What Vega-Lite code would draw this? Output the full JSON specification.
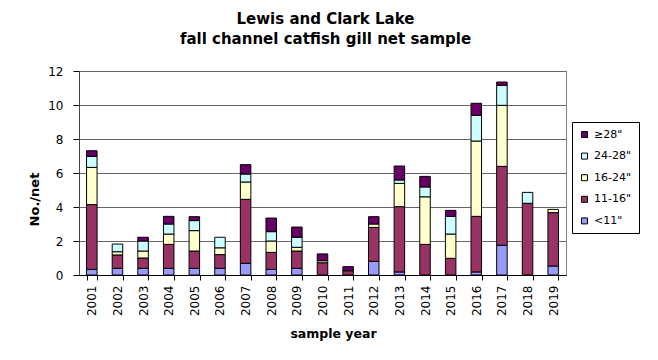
{
  "$schema": "https://vega.github.io/schema/vega-lite/v6.json",
  "width": 487,
  "height": 204,
  "autosize": {"type": "none"},
  "padding": {"left": 79, "top": 71, "right": 92, "bottom": 85},
  "background": "white",
  "title": {
    "text": ["Lewis and Clark Lake", "fall channel catfish gill net sample"],
    "font": "DejaVu Sans",
    "fontSize": 15,
    "fontWeight": "bold",
    "color": "#000000",
    "anchor": "middle",
    "frame": "group",
    "offset": 18,
    "lineHeight": 20,
    "dx": 3
  },
  "data": {
    "values": [
      {"year": "2001", "size": "<11\"", "n": 0.33},
      {"year": "2001", "size": "11-16\"", "n": 3.81},
      {"year": "2001", "size": "16-24\"", "n": 2.19},
      {"year": "2001", "size": "24-28\"", "n": 0.65},
      {"year": "2001", "size": "≥28\"", "n": 0.33},
      {"year": "2002", "size": "<11\"", "n": 0.39},
      {"year": "2002", "size": "11-16\"", "n": 0.79},
      {"year": "2002", "size": "16-24\"", "n": 0.19},
      {"year": "2002", "size": "24-28\"", "n": 0.45},
      {"year": "2003", "size": "<11\"", "n": 0.39},
      {"year": "2003", "size": "11-16\"", "n": 0.61},
      {"year": "2003", "size": "16-24\"", "n": 0.41},
      {"year": "2003", "size": "24-28\"", "n": 0.59},
      {"year": "2003", "size": "≥28\"", "n": 0.22},
      {"year": "2004", "size": "<11\"", "n": 0.39},
      {"year": "2004", "size": "11-16\"", "n": 1.41},
      {"year": "2004", "size": "16-24\"", "n": 0.61},
      {"year": "2004", "size": "24-28\"", "n": 0.59},
      {"year": "2004", "size": "≥28\"", "n": 0.45},
      {"year": "2005", "size": "<11\"", "n": 0.39},
      {"year": "2005", "size": "11-16\"", "n": 1.02},
      {"year": "2005", "size": "16-24\"", "n": 1.2},
      {"year": "2005", "size": "24-28\"", "n": 0.59},
      {"year": "2005", "size": "≥28\"", "n": 0.23},
      {"year": "2006", "size": "<11\"", "n": 0.39},
      {"year": "2006", "size": "11-16\"", "n": 0.81},
      {"year": "2006", "size": "16-24\"", "n": 0.4},
      {"year": "2006", "size": "24-28\"", "n": 0.62},
      {"year": "2007", "size": "<11\"", "n": 0.69},
      {"year": "2007", "size": "11-16\"", "n": 3.76},
      {"year": "2007", "size": "16-24\"", "n": 1.02},
      {"year": "2007", "size": "24-28\"", "n": 0.47},
      {"year": "2007", "size": "≥28\"", "n": 0.55},
      {"year": "2008", "size": "<11\"", "n": 0.33},
      {"year": "2008", "size": "11-16\"", "n": 1.0},
      {"year": "2008", "size": "16-24\"", "n": 0.67},
      {"year": "2008", "size": "24-28\"", "n": 0.55},
      {"year": "2008", "size": "≥28\"", "n": 0.8},
      {"year": "2009", "size": "<11\"", "n": 0.39},
      {"year": "2009", "size": "11-16\"", "n": 1.02},
      {"year": "2009", "size": "16-24\"", "n": 0.22},
      {"year": "2009", "size": "24-28\"", "n": 0.59},
      {"year": "2009", "size": "≥28\"", "n": 0.6},
      {"year": "2010", "size": "11-16\"", "n": 0.72},
      {"year": "2010", "size": "16-24\"", "n": 0.12},
      {"year": "2010", "size": "≥28\"", "n": 0.4},
      {"year": "2011", "size": "11-16\"", "n": 0.25},
      {"year": "2011", "size": "≥28\"", "n": 0.24},
      {"year": "2012", "size": "<11\"", "n": 0.8},
      {"year": "2012", "size": "11-16\"", "n": 2.0},
      {"year": "2012", "size": "16-24\"", "n": 0.2},
      {"year": "2012", "size": "≥28\"", "n": 0.43},
      {"year": "2013", "size": "<11\"", "n": 0.18},
      {"year": "2013", "size": "11-16\"", "n": 3.84},
      {"year": "2013", "size": "16-24\"", "n": 1.37},
      {"year": "2013", "size": "24-28\"", "n": 0.2},
      {"year": "2013", "size": "≥28\"", "n": 0.82},
      {"year": "2014", "size": "11-16\"", "n": 1.8},
      {"year": "2014", "size": "16-24\"", "n": 2.8},
      {"year": "2014", "size": "24-28\"", "n": 0.58},
      {"year": "2014", "size": "≥28\"", "n": 0.62},
      {"year": "2015", "size": "11-16\"", "n": 0.98},
      {"year": "2015", "size": "16-24\"", "n": 1.43},
      {"year": "2015", "size": "24-28\"", "n": 1.04},
      {"year": "2015", "size": "≥28\"", "n": 0.35},
      {"year": "2016", "size": "<11\"", "n": 0.18},
      {"year": "2016", "size": "11-16\"", "n": 3.27},
      {"year": "2016", "size": "16-24\"", "n": 4.43},
      {"year": "2016", "size": "24-28\"", "n": 1.51},
      {"year": "2016", "size": "≥28\"", "n": 0.71},
      {"year": "2017", "size": "<11\"", "n": 1.75},
      {"year": "2017", "size": "11-16\"", "n": 4.64},
      {"year": "2017", "size": "16-24\"", "n": 3.59},
      {"year": "2017", "size": "24-28\"", "n": 1.18},
      {"year": "2017", "size": "≥28\"", "n": 0.19},
      {"year": "2018", "size": "11-16\"", "n": 4.22},
      {"year": "2018", "size": "24-28\"", "n": 0.64},
      {"year": "2019", "size": "<11\"", "n": 0.53},
      {"year": "2019", "size": "11-16\"", "n": 3.14},
      {"year": "2019", "size": "16-24\"", "n": 0.19}
    ]
  },
  "transform": [
    {"calculate": "indexof(['<11\"', '11-16\"', '16-24\"', '24-28\"', '≥28\"'], datum.size)", "as": "k"}
  ],
  "mark": {"type": "bar", "stroke": "#000000", "strokeWidth": 1},
  "encoding": {
    "x": {
      "field": "year",
      "type": "ordinal",
      "scale": {"paddingInner": 0.59, "paddingOuter": 0.295},
      "axis": {
        "title": "sample year",
        "titleFont": "DejaVu Sans",
        "titleFontSize": 12.5,
        "titleFontWeight": "bold",
        "titleColor": "#000000",
        "titlePadding": 12,
        "titleX": 254,
        "labelFont": "DejaVu Sans",
        "labelFontSize": 12,
        "labelColor": "#000000",
        "labelAngle": 270,
        "labelAlign": "right",
        "labelBaseline": "middle",
        "labelPadding": 5,
        "tickBand": "extent",
        "tickSize": 5,
        "tickColor": "#000000",
        "domainColor": "#000000",
        "grid": false
      }
    },
    "y": {
      "field": "n",
      "type": "quantitative",
      "stack": "zero",
      "scale": {"domain": [0, 12], "nice": false},
      "axis": {
        "title": "No./net",
        "titleFont": "DejaVu Sans",
        "titleFontSize": 13,
        "titleFontWeight": "bold",
        "titleColor": "#000000",
        "titlePadding": 6,
        "titleY": 128,
        "values": [0, 2, 4, 6, 8, 10, 12],
        "labelFont": "DejaVu Sans",
        "labelFontSize": 12,
        "labelColor": "#000000",
        "labelPadding": 10,
        "tickSize": 6,
        "tickColor": "#000000",
        "domainColor": "#444444",
        "grid": true,
        "gridColor": "#666666",
        "gridWidth": 1
      }
    },
    "color": {
      "field": "size",
      "type": "nominal",
      "scale": {
        "domain": ["≥28\"", "24-28\"", "16-24\"", "11-16\"", "<11\""],
        "range": ["#660066", "#CCFFFF", "#FFFFCC", "#993366", "#9999FF"]
      },
      "legend": {
        "title": null,
        "orient": "none",
        "legendX": 493,
        "legendY": 51,
        "strokeColor": "#000000",
        "padding": 7,
        "symbolType": "square",
        "symbolSize": 36,
        "symbolStrokeColor": "#000000",
        "symbolStrokeWidth": 1,
        "labelFont": "DejaVu Sans",
        "labelFontSize": 11,
        "labelColor": "#000000",
        "labelOffset": 4,
        "rowPadding": 9.6
      }
    },
    "order": {"field": "k", "type": "quantitative"}
  },
  "config": {
    "view": {"stroke": "#808080", "strokeWidth": 1}
  }
}
